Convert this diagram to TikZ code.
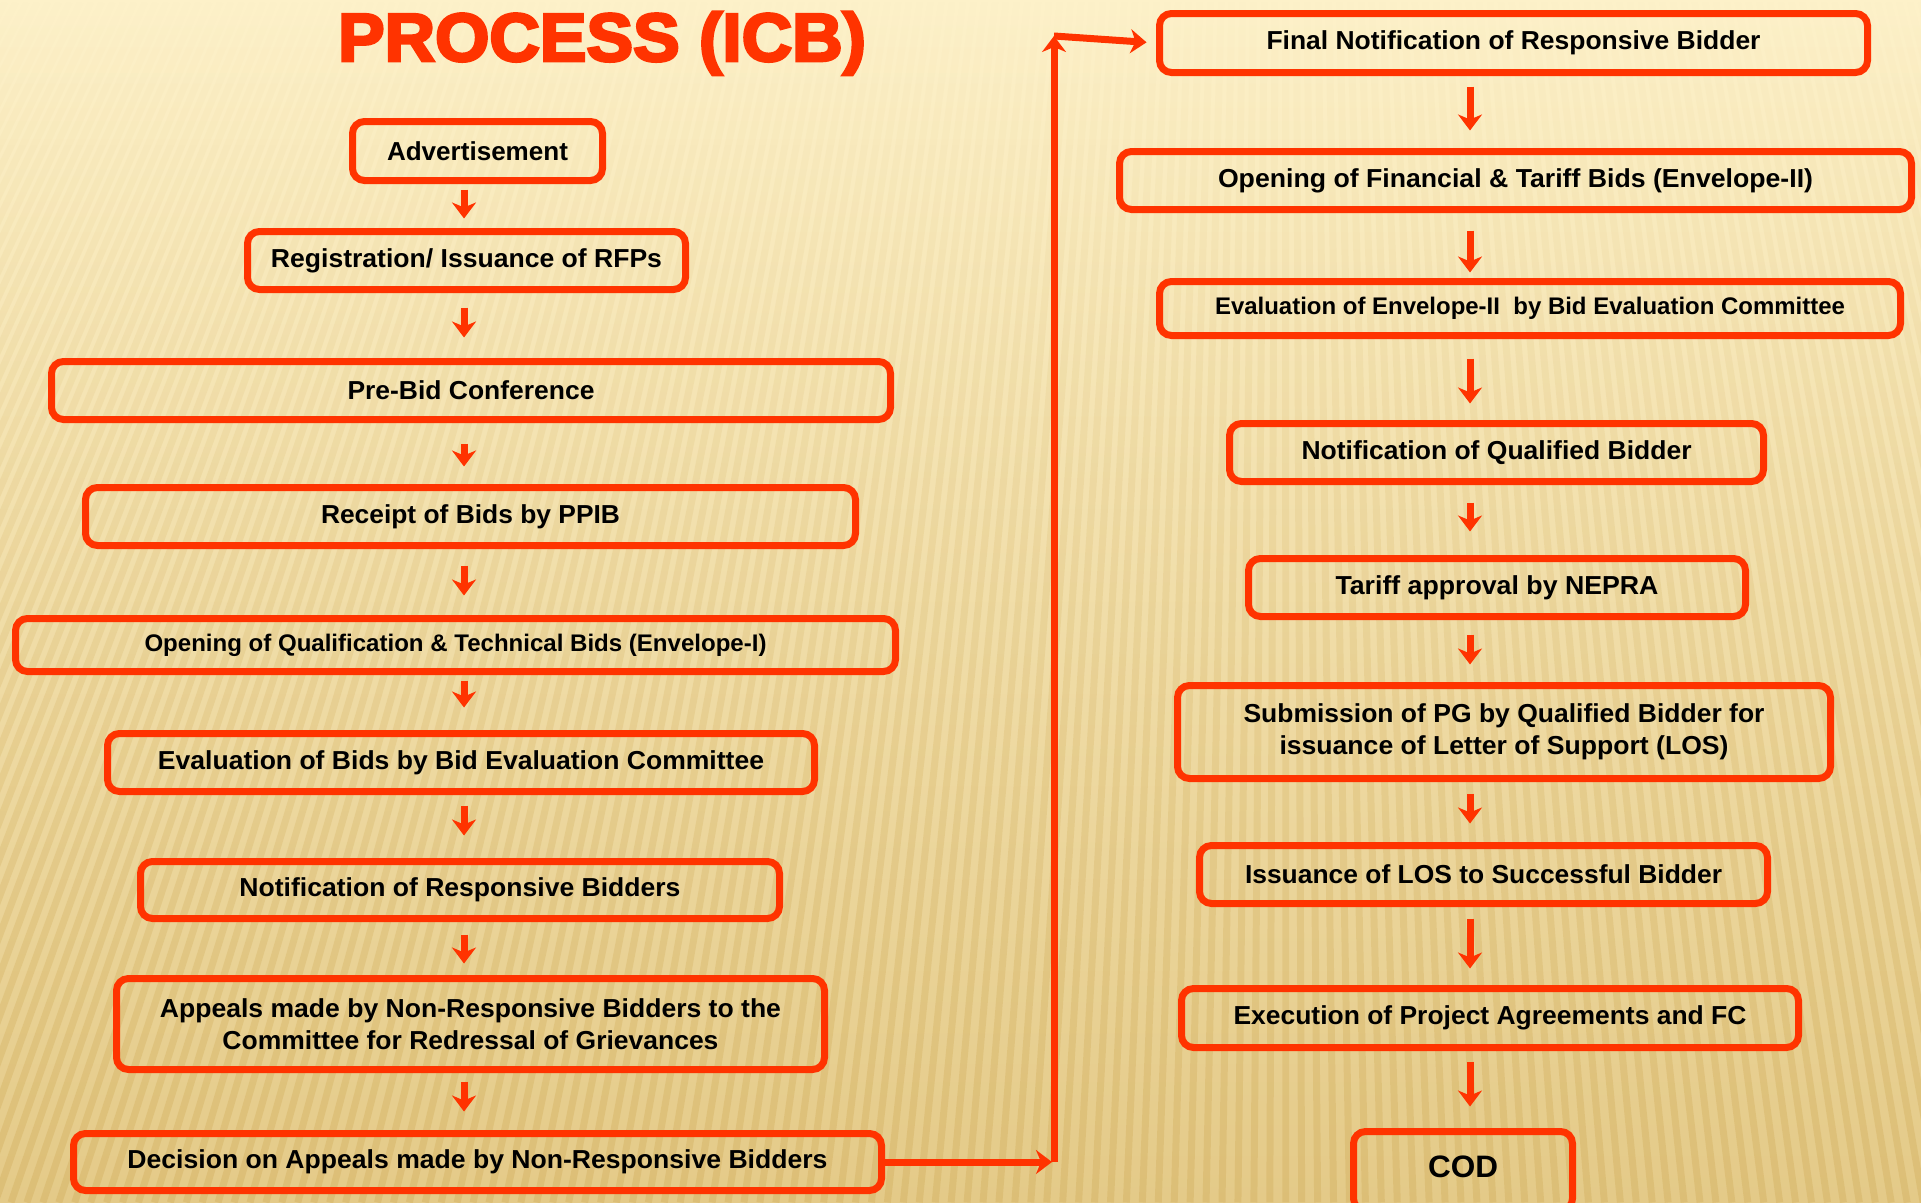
\documentclass[tikz,border=0pt]{standalone}
\usepackage{fontspec}
\setmainfont{Liberation Sans}
\newfontfamily\titlefont{Liberation Sans}[BoldFeatures={FakeBold=4}]
\usepackage{graphicx}
\usetikzlibrary{arrows.meta,fadings}
\definecolor{boxred}{HTML}{FF3300}
\definecolor{bgA}{HTML}{FDF1C9}
\definecolor{bgM}{HTML}{F6E4AE}
\definecolor{bgB}{HTML}{E4CA88}
\definecolor{stripecol}{HTML}{D2AE5C}
\newcommand\fitw[2]{\resizebox{#1}{\height}{#2}}
\tikzfading[name=stripefade, top color=transparent!100, bottom color=transparent!0]
\tikzset{
  stepbox/.style={draw=boxred, line width=7pt, rounded corners=12pt, inner sep=0pt,
    align=center, text=black, font=\fontsize{26}{32}\selectfont\bfseries},
  smalltext/.style={font=\fontsize{24}{30}\selectfont\bfseries},
  flow/.style={draw=boxred, line width=7pt, -{Stealth[length=16pt,width=24pt,inset=5pt]}},
}
\begin{document}
\begin{tikzpicture}[x=1pt,y=-1pt]
\useasboundingbox (0,0) rectangle (1921,1202);
\shade[top color=bgA, middle color=bgM, bottom color=bgB] (0,0) rectangle (1921,1202);
\begin{scope}
\clip (0,0) rectangle (1921,1202);
\draw[stripecol, line width=7pt, opacity=0.4, path fading=stripefade]
  foreach \x in {-700,-684,...,2300} { ({422.1+0.6753*\x},0) -- (\x,1202) };
\end{scope}

\node[anchor=base, text=boxred, font=\titlefont\bfseries\fontsize{68}{68}\selectfont] (title) at (602,61) {\fitw{528pt}{PROCESS (ICB)}};

% left column
\node[stepbox, minimum width=250pt, minimum height=59pt] (adv) at (477.5,151) {\fitw{181pt}{Advertisement}};
\node[stepbox, minimum width=438pt, minimum height=58pt] (reg) at (466.5,260.5) {\fitw{391pt}{Registration/ Issuance of RFPs}};
\node[stepbox, minimum width=839pt, minimum height=58pt] (pre) at (471,390.5) {\fitw{247pt}{Pre-Bid Conference}};
\node[stepbox, minimum width=770pt, minimum height=58pt] (rec) at (470.5,516.5) {\fitw{299pt}{Receipt of Bids by PPIB}};
\node[stepbox, smalltext, minimum width=880pt, minimum height=53pt] (opq) at (455.5,645) {\fitw{622pt}{Opening of Qualification \& Technical Bids (Envelope-I)}};
\node[stepbox, minimum width=707pt, minimum height=58pt] (evb) at (461,762.5) {\fitw{606pt}{Evaluation of Bids by Bid Evaluation Committee}};
\node[stepbox, minimum width=639pt, minimum height=57pt] (nrb) at (460,890) {\fitw{441pt}{Notification of Responsive Bidders}};
\node[stepbox, minimum width=708pt, minimum height=91pt] (app) at (470.5,1024) {\fitw{621pt}{Appeals made by Non-Responsive Bidders to the}\\\fitw{496pt}{Committee for Redressal of Grievances}};
\node[stepbox, minimum width=808pt, minimum height=57pt] (dec) at (477.5,1162) {\fitw{700pt}{Decision on Appeals made by Non-Responsive Bidders}};

% right column
\node[stepbox, minimum width=708pt, minimum height=59pt] (fin) at (1513.5,43) {\fitw{494pt}{Final Notification of Responsive Bidder}};
\node[stepbox, minimum width=792pt, minimum height=58pt] (ofb) at (1515.5,180.5) {\fitw{595pt}{Opening of Financial \& Tariff Bids (Envelope-II)}};
\node[stepbox, smalltext, minimum width=741pt, minimum height=54pt] (eve) at (1530,308.5) {\fitw{630pt}{Evaluation of Envelope-II\ \ by Bid Evaluation Committee}};
\node[stepbox, minimum width=534pt, minimum height=58pt] (nqb) at (1496.5,452.5) {\fitw{390pt}{Notification of Qualified Bidder}};
\node[stepbox, minimum width=497pt, minimum height=58pt] (tar) at (1497,587.5) {\fitw{323pt}{Tariff approval by NEPRA}};
\node[stepbox, minimum width=653pt, minimum height=93pt] (sub) at (1504,732) {\fitw{521pt}{Submission of PG by Qualified Bidder for}\\\fitw{449pt}{issuance of Letter of Support (LOS)}};
\node[stepbox, minimum width=568pt, minimum height=58pt] (iss) at (1483.5,874.5) {\fitw{477pt}{Issuance of LOS to Successful Bidder}};
\node[stepbox, minimum width=617pt, minimum height=59pt] (exe) at (1490,1018) {\fitw{513pt}{Execution of Project Agreements and FC}};
\node[stepbox, font=\fontsize{31}{36}\selectfont\bfseries, text height=22.5pt, text depth=10.5pt, minimum width=219pt, minimum height=79pt] (cod) at (1463,1171) {\fitw{70pt}{COD}};

\coordinate (colL) at (464,0);
\coordinate (colR) at (1470,0);
\coordinate (k1) at (1054,1162);
\coordinate (k2) at (1054,36);

% left arrows
\draw[flow, shorten <=5.5pt, shorten >=9.5pt] (adv.south -| colL) -- (reg.north -| colL);
\draw[flow, shorten <=14.5pt, shorten >=20.5pt] (reg.south -| colL) -- (pre.north -| colL);
\draw[flow, shorten <=20.5pt, shorten >=17.5pt] (pre.south -| colL) -- (rec.north -| colL);
\draw[flow, shorten <=16.5pt, shorten >=19.5pt] (rec.south -| colL) -- (opq.north -| colL);
\draw[flow, shorten <=5.5pt, shorten >=22.5pt] (opq.south -| colL) -- (evb.north -| colL);
\draw[flow, shorten <=10.5pt, shorten >=22.5pt] (evb.south -| colL) -- (nrb.north -| colL);
\draw[flow, shorten <=12.5pt, shorten >=11.5pt] (nrb.south -| colL) -- (app.north -| colL);
\draw[flow, shorten <=8.5pt, shorten >=18.5pt] (app.south -| colL) -- (dec.north -| colL);

% right arrows
\draw[flow, shorten <=10.5pt, shorten >=17.5pt] (fin.south -| colR) -- (ofb.north -| colR);
\draw[flow, shorten <=17.5pt, shorten >=5.5pt] (ofb.south -| colR) -- (eve.north -| colR);
\draw[flow, shorten <=19.5pt, shorten >=16.5pt] (eve.south -| colR) -- (nqb.north -| colR);
\draw[flow, shorten <=17.5pt, shorten >=23.5pt] (nqb.south -| colR) -- (tar.north -| colR);
\draw[flow, shorten <=14.5pt, shorten >=17.5pt] (tar.south -| colR) -- (sub.north -| colR);
\draw[flow, shorten <=11.5pt, shorten >=18.5pt] (sub.south -| colR) -- (iss.north -| colR);
\draw[flow, shorten <=11.5pt, shorten >=16.5pt] (iss.south -| colR) -- (exe.north -| colR);
\draw[flow, shorten <=10.5pt, shorten >=21.5pt] (exe.south -| colR) -- (cod.north -| colR);

% connector between columns
\draw[flow, shorten >=2pt] (dec.east) -- (k1);
\draw[flow] (k1) -- (k2);
\draw[flow, shorten >=9.5pt] (k2) -- (fin.west);
\end{tikzpicture}
\end{document}
